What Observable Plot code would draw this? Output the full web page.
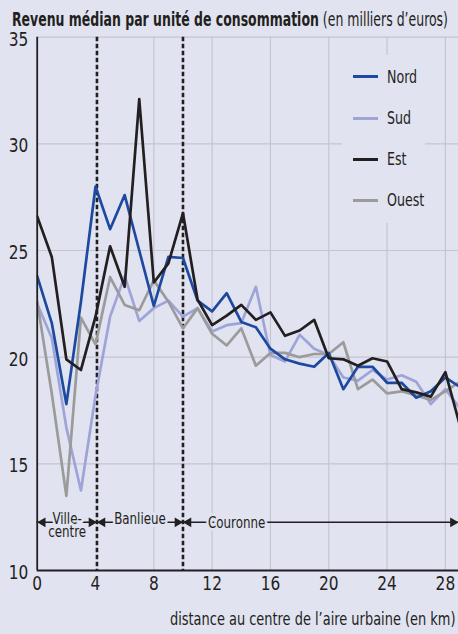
<!DOCTYPE html>
<html><head><meta charset="utf-8">
<script src="https://cdn.jsdelivr.net/npm/d3@7"></script>
<script src="https://cdn.jsdelivr.net/npm/@observablehq/plot@0.6"></script>
<style>
body{margin:0;background:#e1e3f1;}
#c{position:relative;width:458px;height:634px;overflow:hidden;font-family:"DejaVu Sans Condensed","Liberation Sans",sans-serif;color:#231f20;}
#title{position:absolute;left:12px;top:8.5px;font-size:19.5px;line-height:22px;white-space:nowrap;transform-origin:0 0;}
#title b{font-weight:bold;}
#legend{position:absolute;left:342px;top:55px;width:83px;height:168px;background:#e1e3f1;}
.item{position:absolute;left:0;height:22px;width:83px;font-size:18px;line-height:22px;}
.sw{position:absolute;left:11px;top:9.5px;width:25px;height:3px;}
.lb{position:absolute;left:45px;top:0;transform:scaleX(0.78);transform-origin:0 0;white-space:nowrap;}
svg{display:block;}
</style>
</head><body>
<div id="c"></div>
<script>
const distances = [0,1,2,3,4,5,6,7,8,9,10,11,12,13,14,15,16,17,18,19,20,21,22,23,24,25,26,27,28,29];
const nord  = [23.8,21.6,17.8,22.6,28.0,26.0,27.6,25.0,22.4,24.7,24.65,22.65,22.15,23.0,21.65,21.4,20.4,19.9,19.7,19.55,20.2,18.5,19.55,19.55,18.8,18.8,18.1,18.4,19.05,18.6];
const sud   = [22.5,20.9,16.7,13.75,18.2,21.9,23.8,21.7,22.3,22.65,21.9,22.3,21.2,21.5,21.6,23.3,20.1,19.8,21.05,20.4,20.1,19.05,18.9,19.4,18.95,19.15,18.85,17.8,18.5,17.6];
const est   = [26.6,24.7,19.9,19.4,21.9,25.2,23.3,32.1,23.5,24.4,26.75,22.7,21.5,21.95,22.45,21.75,22.1,21.0,21.25,21.75,19.95,19.9,19.6,19.95,19.8,18.5,18.35,18.15,19.3,16.8];
const ouest = [22.6,18.3,13.5,21.85,20.6,23.75,22.45,22.2,23.6,22.6,21.35,22.3,21.1,20.55,21.35,19.6,20.2,20.2,20.0,20.15,20.15,20.7,18.5,18.95,18.3,18.4,18.2,18.0,18.4,18.85];
const seriesNames = ["Nord","Sud","Est","Ouest"];
const seriesColors = ["#1d4aa0","#9ea4d8","#231f20","#9b9b9b"];
const xTicks = [0,4,8,12,16,20,24,28];
const yTicks = [10,15,20,25,30,35];
const zoneNames = ["Ville-\ncentre","Banlieue","Couronne"];
const zoneStart = [0,4.1,10];
const zoneEnd = [4.1,10,28.9];
const boundaries = [4.1,10];
const titleBold = "Revenu médian par unité de consommation";
const titleRest = " (en milliers d’euros)";
const xLabel = "distance au centre de l’aire urbaine (en km)";

const bg = "#e1e3f1", grid = "#c4c5cf", ink = "#231f20";
const font = '"DejaVu Sans Condensed","Liberation Sans",sans-serif';

const seriesVals = [nord, sud, est, ouest];
const rows = [];
const drawOrder = [1,3,0,2];
for (const s of drawOrder) distances.forEach((d,i) => rows.push({serie: seriesNames[s], x: d, y: seriesVals[s][i]}));
const zones = zoneNames.map((n,i) => ({name:n, x1: zoneStart[i], x2: zoneEnd[i]}));
const annY = 12.26;

const chart = Plot.plot({
  width: 458, height: 634,
  marginTop: 36.7, marginBottom: 64, marginLeft: 36.7, marginRight: 0,
  style: {background: bg, fontFamily: font, fontSize: "18px", color: ink},
  x: {domain: [0, 28.9]},
  y: {domain: [10, 35]},
  color: {domain: seriesNames, range: seriesColors},
  marks: [
    Plot.gridY(yTicks.filter(t => t > 10), {stroke: grid, strokeOpacity: 1, strokeWidth: 1.2}),
    Plot.gridX(xTicks.filter(t => t >= 8), {stroke: grid, strokeOpacity: 1, strokeWidth: 1.2}),
    Plot.ruleX(boundaries, {stroke: ink, strokeWidth: 2.6, strokeDasharray: "4.5,2.5"}),
    Plot.line(rows, {x: "x", y: "y", z: "serie", stroke: "serie", strokeWidth: 2.7, clip: true}),
    Plot.ruleY(zones, {x1: "x1", x2: "x2", y: () => annY, stroke: ink, strokeWidth: 1.5}),
    Plot.dot(zones, {x: "x1", y: () => annY, symbol: "triangle", rotate: -90, r: 3.6, fill: ink, stroke: "none", dx: 5.5}),
    Plot.dot(zones, {x: "x2", y: () => annY, symbol: "triangle", rotate: 90, r: 3.6, fill: ink, stroke: "none", dx: -5.5}),
    Plot.text(zones.slice(0,2), {x: d => (d.x1 + d.x2) / 2, y: () => annY, text: "name", lineAnchor: "top", dy: -8.5, lineHeight: 0.84, fontSize: 16.5, fill: ink, stroke: bg, strokeWidth: 6}),
    Plot.text(zones.slice(2), {x: "x1", y: () => annY, text: "name", textAnchor: "start", dx: 25, fontSize: 16.5, fill: ink, stroke: bg, strokeWidth: 6}),
    Plot.ruleX([0], {stroke: ink, strokeWidth: 1.8}),
    Plot.ruleY([10], {stroke: ink, strokeWidth: 1.8}),
    Plot.axisX(xTicks, {tickSize: 0, tickPadding: 6, label: null, fontSize: 19, fill: ink}),
    Plot.axisY(yTicks, {tickSize: 0, tickPadding: 9, dy: 2.5, label: null, fontSize: 19, fill: ink}),
    Plot.text([xLabel], {frameAnchor: "bottom-right", dy: 54.5, dx: -3, textAnchor: "end", fontSize: 18, fill: ink})
  ]
});

const c = document.getElementById("c");
c.appendChild(chart);

// narrow the glyphs horizontally to mimic the condensed face of the original
chart.querySelectorAll("text").forEach(t => {
  const parts = t.querySelectorAll("tspan");
  const els = parts.length ? Array.from(parts) : [t];
  els.forEach(e => {
    const s = e.textContent.trim();
    if (!s) return;
    const k = /^\d+$/.test(s) ? 0.9 : 0.8;
    const L = e.getComputedTextLength();
    if (L > 0) {
      e.setAttribute("textLength", (L * k).toFixed(2));
      e.setAttribute("lengthAdjust", "spacingAndGlyphs");
    }
  });
});

const t = document.createElement("div");
t.id = "title";
const b = document.createElement("b"); b.textContent = titleBold;
t.appendChild(b); t.appendChild(document.createTextNode(titleRest));
c.appendChild(t);
const tw = t.getBoundingClientRect().width;
t.style.transform = "scaleX(" + (436 / tw) + ")";

const lg = document.createElement("div"); lg.id = "legend";
const tops = [10.7, 52.3, 93, 134];
seriesNames.forEach((n,i) => {
  const it = document.createElement("div"); it.className = "item"; it.style.top = tops[i] + "px";
  const sw = document.createElement("div"); sw.className = "sw"; sw.style.background = seriesColors[i];
  const lb = document.createElement("div"); lb.className = "lb"; lb.textContent = n;
  it.appendChild(sw); it.appendChild(lb); lg.appendChild(it);
});
c.appendChild(lg);
</script>
</body></html>
